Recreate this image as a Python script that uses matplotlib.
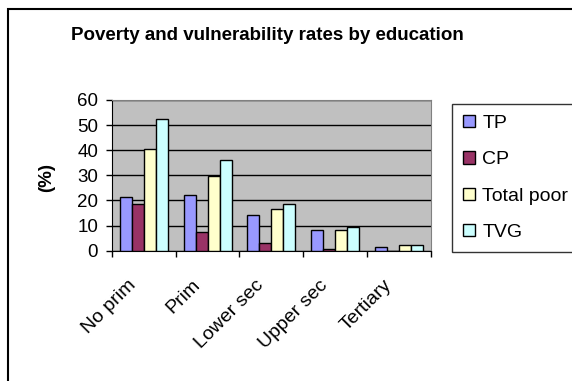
import numpy as np
import matplotlib
matplotlib.use('Agg')
import matplotlib.pyplot as plt
from matplotlib.patches import Rectangle
from matplotlib.transforms import ScaledTranslation

plt.rcParams['font.family'] = ['Liberation Sans', 'DejaVu Sans']

categories = ['No prim', 'Prim', 'Lower sec', 'Upper sec', 'Tertiary']
tp = [21.5, 22.3, 14.2, 8.3, 1.6]
cp = [18.7, 7.5, 3.0, 0.6, 0.0]
total_poor = [40.5, 29.9, 16.6, 8.3, 2.4]
tvg = [52.5, 36.0, 18.7, 9.6, 2.4]

series = [('TP', tp, '#9999FF'), ('CP', cp, '#993366'),
          ('Total poor', total_poor, '#FFFFCC'), ('TVG', tvg, '#CCFFFF')]

fig = plt.figure(figsize=(5.72, 3.81), dpi=100)
ax = fig.add_axes([112 / 572, 1 - 250.7 / 381, 318.7 / 572, 150.7 / 381])
ax.set_facecolor('#C0C0C0')

x = np.arange(len(categories))
w = 0.188
for k, (name, vals, col) in enumerate(series):
    ax.bar(x + (k - 1.5) * w, vals, w, color=col, edgecolor='black',
           linewidth=1.0, label=name, zorder=3)

ax.set_xlim(-0.5, 4.5)
ax.set_ylim(0, 60)
ax.set_yticks(range(0, 61, 10))
ax.yaxis.grid(True, color='black', linewidth=1.0, zorder=1)
ax.tick_params(axis='y', labelsize=13.5, length=4.5, width=1, pad=5.5)

# tick marks on category boundaries, labels drawn separately at the centres
ax.set_xticks(np.arange(-0.5, 5, 1))
ax.set_xticklabels([])
ax.tick_params(axis='x', length=4, width=1)
shift = ScaledTranslation(-10 / 100, -32 / 100, fig.dpi_scale_trans)
for i, cat in enumerate(categories):
    ax.text(i, 0, cat, transform=ax.get_xaxis_transform() + shift,
            rotation=45, rotation_mode='anchor', ha='right', va='center',
            fontsize=14)

for s in ['top', 'right']:
    ax.spines[s].set_color('#808080')
ax.spines['left'].set_color('black')
ax.spines['bottom'].set_color('black')

ax.set_ylabel('(%)', fontsize=13.5, fontweight='bold', va='center')
ax.yaxis.set_label_coords((46.5 - 112) / 318.7, (250.7 - 177) / 150.7)

fig.text(267 / 572, 1 - 35 / 381, 'Poverty and vulnerability rates by education',
         ha='center', va='center', fontsize=13.5, fontweight='bold')

leg = fig.legend(loc='upper left', bbox_to_anchor=(452 / 572, 1 - 249 / 381, 140 / 572, 145 / 381),
                 mode='expand', fontsize=14, frameon=True, fancybox=False,
                 handlelength=0.65, handleheight=0.6, handletextpad=0.35,
                 labelspacing=1.0, borderaxespad=0, borderpad=0.55)
leg.get_frame().set_edgecolor('black')
leg.get_frame().set_linewidth(1.0)

# outer chart border runs off the right and bottom edges
fig.patches.append(Rectangle((8 / 572, -0.2), 1.0, 1.2 - 9 / 381, transform=fig.transFigure,
                             fill=False, edgecolor='black', linewidth=1.5))

fig.savefig('out.png', dpi=100)
